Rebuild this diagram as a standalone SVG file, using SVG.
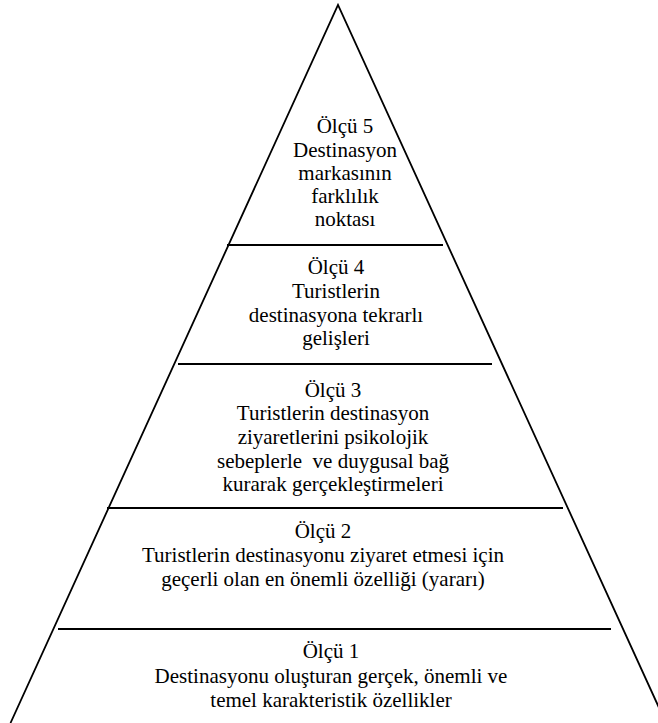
<svg xmlns="http://www.w3.org/2000/svg" width="658" height="723" viewBox="0 0 658 723">
<style>
.side{fill:none;stroke:#000;stroke-width:1.8}
.div{stroke:#000;stroke-width:2}
.lbl{font-family:'Liberation Serif','Tinos','Times New Roman','Nimbus Roman','DejaVu Serif','Noto Serif',serif;font-size:21px;fill:#000;text-anchor:middle}
</style>
<rect width="658" height="723" fill="#fff"/>
<g id="pyramid">
<path class="side" d="M10.5,723 L338,5 L666,723"/>
<line class="div" x1="227" y1="245" x2="443" y2="245"/>
<line class="div" x1="178" y1="364" x2="492" y2="364"/>
<line class="div" x1="107" y1="508" x2="563" y2="508"/>
<line class="div" x1="58" y1="629" x2="611" y2="629"/>
</g>
<g class="lbl">
<g id="level5">
<text x="345" y="133">Ölçü 5</text>
<text x="345" y="157">Destinasyon</text>
<text x="345" y="180">markasının</text>
<text x="345" y="203">farklılık</text>
<text x="345" y="226">noktası</text>
</g>
<g id="level4">
<text x="336" y="274">Ölçü 4</text>
<text x="336" y="298">Turistlerin</text>
<text x="336" y="322">destinasyona tekrarlı</text>
<text x="336" y="345">gelişleri</text>
</g>
<g id="level3">
<text x="333" y="397">Ölçü 3</text>
<text x="333" y="420">Turistlerin destinasyon</text>
<text x="333" y="444">ziyaretlerini psikolojik</text>
<text x="333" y="468" xml:space="preserve">sebeplerle  ve duygusal bağ</text>
<text x="333" y="491">kurarak gerçekleştirmeleri</text>
</g>
<g id="level2">
<text x="323" y="538">Ölçü 2</text>
<text x="323" y="562">Turistlerin destinasyonu ziyaret etmesi için</text>
<text x="323" y="586">geçerli olan en önemli özelliği (yararı)</text>
</g>
<g id="level1">
<text x="331" y="658">Ölçü 1</text>
<text x="331" y="683">Destinasyonu oluşturan gerçek, önemli ve</text>
<text x="331" y="707">temel karakteristik özellikler</text>
</g>
</g>
<g id="connectors"/>
</svg>
